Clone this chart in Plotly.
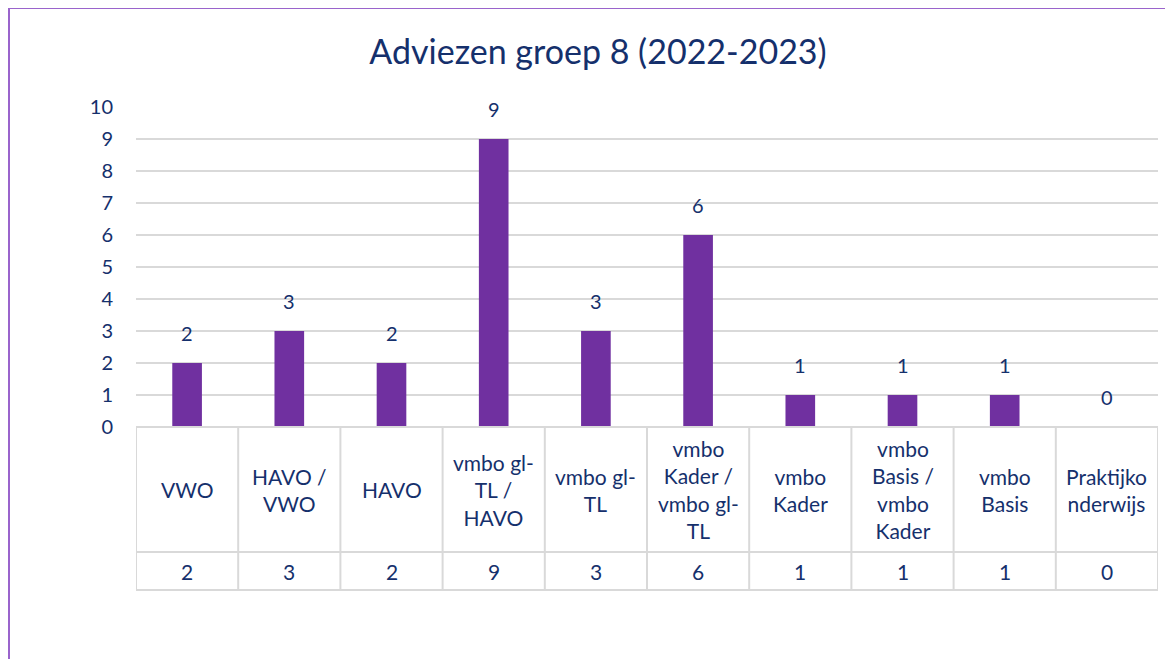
import plotly.graph_objects as go

categories = ["VWO", "HAVO / VWO", "HAVO", "vmbo gl-TL / HAVO", "vmbo gl-TL",
              "vmbo Kader / vmbo gl-TL", "vmbo Kader", "vmbo Basis / vmbo Kader",
              "vmbo Basis", "Praktijkonderwijs"]
table_labels = ["VWO", "HAVO /<br>VWO", "HAVO", "vmbo gl-<br>TL /<br>HAVO", "vmbo gl-<br>TL",
                "vmbo<br>Kader /<br>vmbo gl-<br>TL", "vmbo<br>Kader", "vmbo<br>Basis /<br>vmbo<br>Kader",
                "vmbo<br>Basis", "Praktijko<br>nderwijs"]
values = [2, 3, 2, 9, 3, 6, 1, 1, 1, 0]
title_text = "Adviezen groep 8 (2022-2023)"

OFF = 8  # page body margin
W, H = 1165, 651
L, R, T, B = 136 - OFF, 15, 107 - OFF, 232
plot_w = W - L - R
plot_h = H - T - B

TXT = "#15306C"
GRID = "#D9D9D9"
FONT = "Lato, 'DejaVu Sans', sans-serif"

def py(pix):
    """screen pixel y -> paper y"""
    return 1 - (pix - OFF - T) / plot_h

def px(pix):
    return (pix - OFF - L) / plot_w

fig = go.Figure()
fig.add_trace(go.Bar(x=categories, y=values, marker_color="#7030A0", marker_line_width=0,
                     hoverinfo="x+y"))

annotations = []
for c, v in zip(categories, values):
    annotations.append(dict(x=c, y=v, xref="x", yref="y", text=str(v), showarrow=False,
                            yshift=30, font=dict(size=20, color=TXT, family=FONT)))
row1_mid = py((427 + 552) / 2)
row2_mid = py((552 + 590) / 2)
for c, lab, v in zip(categories, table_labels, values):
    annotations.append(dict(x=c, y=row1_mid, xref="x", yref="paper", text=lab, showarrow=False,
                            yanchor="middle", align="center",
                            font=dict(size=21, color=TXT, family=FONT)))
    annotations.append(dict(x=c, y=row2_mid, xref="x", yref="paper", text=str(v), showarrow=False,
                            yanchor="middle", font=dict(size=21, color=TXT, family=FONT)))

shapes = []
n = len(categories)
y_top = 0
y_mid = py(552)
y_bot = py(590)
for i in range(n + 1):
    shapes.append(dict(type="line", xref="x", yref="paper", x0=i - 0.5, x1=i - 0.5,
                       y0=y_top, y1=y_bot, line=dict(color=GRID, width=2)))
for yy in (y_top, y_mid, y_bot):
    shapes.append(dict(type="line", xref="x", yref="paper", x0=-0.5, x1=n - 0.5,
                       y0=yy, y1=yy, line=dict(color=GRID, width=2)))
shapes.append(dict(type="rect", xref="paper", yref="paper", x0=px(9), x1=px(1200),
                   y0=py(720), y1=py(8), line=dict(color="#9A64CC", width=2)))

fig.update_layout(
    width=W, height=H,
    margin=dict(l=L, r=R, t=T, b=B),
    paper_bgcolor="white", plot_bgcolor="white",
    bargap=0.71,
    showlegend=False,
    title=dict(text=title_text, x=px(598), xref="paper", xanchor="center",
               y=1 - (52 - OFF) / H, yanchor="middle",
               font=dict(size=34, color=TXT, family=FONT)),
    xaxis=dict(range=[-0.5, n - 0.5], showticklabels=False, showgrid=False, zeroline=False,
               showline=False, ticks=""),
    yaxis=dict(range=[0, 10], dtick=1, showgrid=True, gridcolor=GRID, gridwidth=2,
               zeroline=False, showline=False, ticks="", ticklabelstandoff=22,
               tickfont=dict(size=20, color=TXT, family=FONT)),
    annotations=annotations,
    shapes=shapes,
)

fig.write_html("out.html")
